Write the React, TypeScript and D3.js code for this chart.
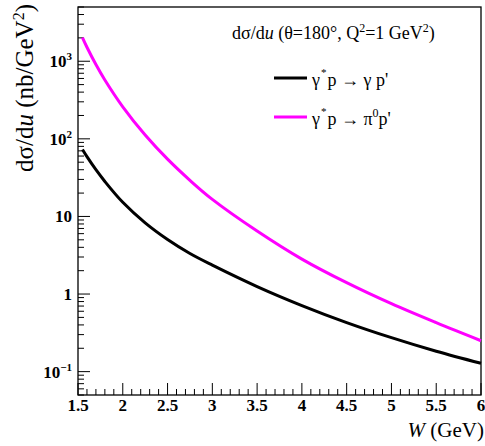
import React, { useEffect, useRef } from "react";
import * as d3 from "d3";

const wValues = [1.55, 1.6, 1.7, 1.8, 2.0, 2.25, 2.5, 2.75, 3.0, 3.5, 4.0, 4.5, 5.0, 5.5, 6.0];
// gamma* p -> gamma p'  (nb/GeV^2)
const dvcsValues = [72.8, 58.9, 40.0, 28.2, 15.2, 8.26, 5.04, 3.33, 2.36, 1.25, 0.711, 0.429, 0.274, 0.183, 0.128];
// gamma* p -> pi0 p'
const pi0Values = [2018, 1514, 908, 574, 259, 112, 54.7, 29.2, 16.6, 6.49, 2.82, 1.4, 0.75, 0.427, 0.25];

const xTicks = [1.5, 2, 2.5, 3, 3.5, 4, 4.5, 5, 5.5, 6];
const yTicks = [
  { v: 1000, base: "10", exp: "3" },
  { v: 100, base: "10", exp: "2" },
  { v: 10, base: "10", exp: "" },
  { v: 1, base: "1", exp: "" },
  { v: 0.1, base: "10", exp: "\u22121" },
];

const SERIF = "'Liberation Serif', 'Times New Roman', serif";

const App = () => {
  const ref = useRef<SVGSVGElement>(null);

  useEffect(() => {
    const svg = d3.select(ref.current);
    svg.selectAll("*").remove();

    const left = 78, right = 481, top = 7, bottom = 395;
    const x = d3.scaleLinear().domain([1.5, 6]).range([left, right]);
    const y = d3.scaleLog().domain([0.05, 5000]).range([bottom, top]);

    // minor ticks
    const yMinor: number[] = [];
    for (let e = -2; e <= 3; e++) {
      for (let m = 2; m <= 9; m++) {
        const v = m * Math.pow(10, e);
        if (v >= 0.05 && v <= 5000) yMinor.push(v);
      }
    }
    const xMinor = d3.range(15, 61).map((d) => d / 10).filter((d) => !xTicks.includes(d));

    const g = svg.append("g");

    g.selectAll(".ymin")
      .data(yMinor)
      .join("line")
      .attr("x1", left).attr("x2", left + 6)
      .attr("y1", (d) => y(d)).attr("y2", (d) => y(d))
      .attr("stroke", "#000");

    g.selectAll(".ymaj")
      .data(yTicks)
      .join("line")
      .attr("x1", left).attr("x2", left + 12)
      .attr("y1", (d) => y(d.v)).attr("y2", (d) => y(d.v))
      .attr("stroke", "#000");

    g.selectAll(".xmin")
      .data(xMinor)
      .join("line")
      .attr("x1", (d) => x(d)).attr("x2", (d) => x(d))
      .attr("y1", bottom).attr("y2", bottom - 6)
      .attr("stroke", "#000");

    g.selectAll(".xmaj")
      .data(xTicks)
      .join("line")
      .attr("x1", (d) => x(d)).attr("x2", (d) => x(d))
      .attr("y1", bottom).attr("y2", bottom - 12)
      .attr("stroke", "#000");

    // frame
    g.append("rect")
      .attr("x", left).attr("y", top)
      .attr("width", right - left).attr("height", bottom - top)
      .attr("fill", "none").attr("stroke", "#000").attr("stroke-width", 1.3);

    // tick labels
    g.selectAll(".xl")
      .data(xTicks)
      .join("text")
      .attr("x", (d) => x(d)).attr("y", bottom + 16)
      .attr("text-anchor", "middle")
      .style("font-family", SERIF).style("font-weight", "bold").style("font-size", "17px")
      .text((d) => String(d));

    const yl = g.selectAll(".yl")
      .data(yTicks)
      .join("text")
      .attr("x", 72).attr("y", (d) => y(d.v) + 6)
      .attr("text-anchor", "end")
      .style("font-family", SERIF).style("font-weight", "bold").style("font-size", "17px");
    yl.append("tspan").text((d) => d.base);
    yl.filter((d) => d.exp !== "")
      .append("tspan")
      .attr("dy", -7).style("font-size", "11px")
      .text((d) => d.exp);

    // curves
    const line = d3.line<number>()
      .x((_, i) => x(wValues[i]))
      .y((d) => y(d))
      .curve(d3.curveCatmullRom.alpha(0.5));

    g.append("path").attr("d", line(dvcsValues))
      .attr("fill", "none").attr("stroke", "#000").attr("stroke-width", 3);
    g.append("path").attr("d", line(pi0Values))
      .attr("fill", "none").attr("stroke", "#ff00ff").attr("stroke-width", 3);

    // header
    const h = g.append("text").attr("x", 232).attr("y", 39)
      .style("font-family", SERIF).style("font-size", "18px");
    h.append("tspan").text("d\u03c3/d");
    h.append("tspan").style("font-style", "italic").text("u");
    h.append("tspan").text(" (\u03b8=180\u00b0, Q");
    h.append("tspan").attr("dy", -7).style("font-size", "12px").text("2");
    h.append("tspan").attr("dy", 7).text("=1 GeV");
    h.append("tspan").attr("dy", -7).style("font-size", "12px").text("2");
    h.append("tspan").attr("dy", 7).text(")");

    // legend
    const legend = [
      { color: "#000", y: 78, parts: ["\u03b3", "*", "p \u2192 \u03b3 p'"] },
      { color: "#ff00ff", y: 117, parts: ["\u03b3", "*", "p \u2192 \u03c0", "0", "p'"] },
    ];
    legend.forEach((l) => {
      g.append("line")
        .attr("x1", 274).attr("x2", 307)
        .attr("y1", l.y).attr("y2", l.y)
        .attr("stroke", l.color).attr("stroke-width", 3);
      const t = g.append("text").attr("x", 312).attr("y", l.y + 8)
        .style("font-family", SERIF).style("font-size", "18px");
      t.append("tspan").text(l.parts[0]);
      t.append("tspan").attr("dy", -10).attr("dx", 1).style("font-size", "11px").text(l.parts[1]);
      t.append("tspan").attr("dy", 10).attr("dx", 1).text(l.parts[2]);
      if (l.parts.length > 3) {
        t.append("tspan").attr("dy", -8).style("font-size", "12px").text(l.parts[3]);
        t.append("tspan").attr("dy", 8).text(l.parts[4]);
      }
    });

    // axis titles
    const xt = g.append("text").attr("x", 484).attr("y", 437)
      .attr("text-anchor", "end")
      .style("font-family", SERIF).style("font-size", "21px");
    xt.append("tspan").style("font-style", "italic").text("W");
    xt.append("tspan").text(" (GeV)");

    const yt = g.append("text")
      .attr("transform", "translate(33,4) rotate(-90)")
      .attr("text-anchor", "end")
      .style("font-family", SERIF).style("font-size", "25px");
    yt.append("tspan").text("d\u03c3/d");
    yt.append("tspan").style("font-style", "italic").text("u");
    yt.append("tspan").text(" (nb/GeV");
    yt.append("tspan").attr("dy", -9).style("font-size", "16px").text("2");
    yt.append("tspan").attr("dy", 9).text(")");
  }, []);

  return (
    <svg
      ref={ref}
      width={485}
      height={446}
      style={{ position: "absolute", left: 0, top: 0, background: "#fff" }}
    />
  );
};

export default App;
